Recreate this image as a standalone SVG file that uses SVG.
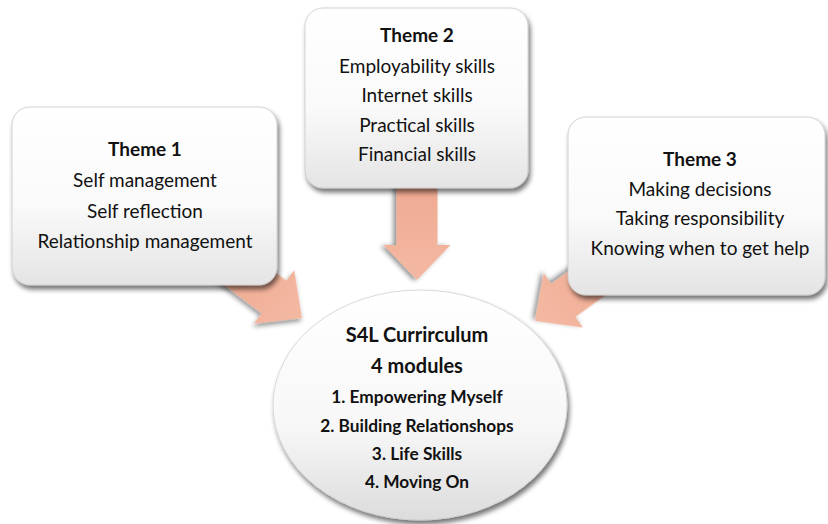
<svg xmlns="http://www.w3.org/2000/svg" width="828" height="524" viewBox="0 0 828 524">
<defs>
<linearGradient id="boxg" x1="0" y1="0" x2="0" y2="1">
<stop offset="0" stop-color="#ffffff"/>
<stop offset="0.55" stop-color="#fafafa"/>
<stop offset="1" stop-color="#e4e4e4"/>
</linearGradient>
<linearGradient id="ellg" x1="0" y1="0" x2="0" y2="1">
<stop offset="0" stop-color="#ffffff"/>
<stop offset="0.6" stop-color="#f7f7f7"/>
<stop offset="1" stop-color="#dcdcdc"/>
</linearGradient>
<linearGradient id="arrg" x1="0" y1="0" x2="1" y2="0">
<stop offset="0" stop-color="#eea68d"/>
<stop offset="1" stop-color="#f4b9a3"/>
</linearGradient>
<filter id="sh" x="-10%" y="-10%" width="125%" height="130%">
<feGaussianBlur in="SourceAlpha" stdDeviation="2.5"/>
<feOffset dx="2" dy="4" result="b"/>
<feComponentTransfer><feFuncA type="linear" slope="0.55"/></feComponentTransfer>
<feMerge><feMergeNode/><feMergeNode in="SourceGraphic"/></feMerge>
</filter>
<filter id="ash" x="-30%" y="-30%" width="160%" height="160%">
<feGaussianBlur in="SourceAlpha" stdDeviation="2.5"/>
<feOffset dx="1" dy="3" result="b"/>
<feComponentTransfer><feFuncA type="linear" slope="0.45"/></feComponentTransfer>
<feMerge><feMergeNode/><feMergeNode in="SourceGraphic"/></feMerge>
</filter>
<path id="arrow" d="M-115,-20.5 L-35,-20.5 L-35,-33.5 L0,0 L-35,33.5 L-35,20.5 L-115,20.5 Z"/>
</defs>
<style>
.box{fill:url(#boxg);stroke:#c8c8c8;stroke-width:0.8;filter:url(#sh)}
.ell{fill:url(#ellg);stroke:#d0d0d0;stroke-width:0.8;filter:url(#sh)}
.arr{fill:url(#arrg);filter:url(#ash)}
text{font-family:Lato,"Open Sans","Liberation Sans",sans-serif;fill:#111;text-anchor:middle}
.t{font-size:19px}
.h{font-size:19px;font-weight:bold}
.big{font-size:20px;font-weight:bold}
.m{font-size:17.3px;font-weight:bold}
</style>
<rect width="828" height="524" fill="#ffffff"/>
<g id="connectors">
<use href="#arrow" class="arr" transform="translate(302,318) rotate(37)"/>
<use href="#arrow" class="arr" transform="translate(417,280) rotate(90)"/>
<use href="#arrow" class="arr" transform="translate(535,321) rotate(144)"/>
</g>
<g id="theme1">
<rect class="box" x="12" y="107" width="265" height="178" rx="18"/>
<text class="h" x="145" y="156">Theme 1</text>
<text class="t" x="145" y="187">Self management</text>
<text class="t" x="145" y="218">Self reflection</text>
<text class="t" x="145" y="248">Relationship management</text>
</g>
<g id="theme2">
<rect class="box" x="305" y="8" width="223" height="180" rx="18"/>
<text class="h" x="417" y="42">Theme 2</text>
<text class="t" x="417" y="73">Employability skills</text>
<text class="t" x="417" y="102">Internet skills</text>
<text class="t" x="417" y="132">Practical skills</text>
<text class="t" x="417" y="161">Financial skills</text>
</g>
<g id="theme3">
<rect class="box" x="568" y="117" width="257" height="178" rx="18"/>
<text class="h" x="700" y="166">Theme 3</text>
<text class="t" x="700" y="196">Making decisions</text>
<text class="t" x="700" y="225">Taking responsibility</text>
<text class="t" x="700" y="255">Knowing when to get help</text>
</g>
<g id="curriculum">
<ellipse class="ell" cx="420" cy="405" rx="147" ry="115"/>
<text class="big" x="417" y="342">S4L Currirculum</text>
<text class="big" x="417" y="373">4 modules</text>
<text class="m" x="417" y="403">1. Empowering Myself</text>
<text class="m" x="417" y="432">2. Building Relationshops</text>
<text class="m" x="417" y="460">3. Life Skills</text>
<text class="m" x="417" y="488">4. Moving On</text>
</g>
</svg>
